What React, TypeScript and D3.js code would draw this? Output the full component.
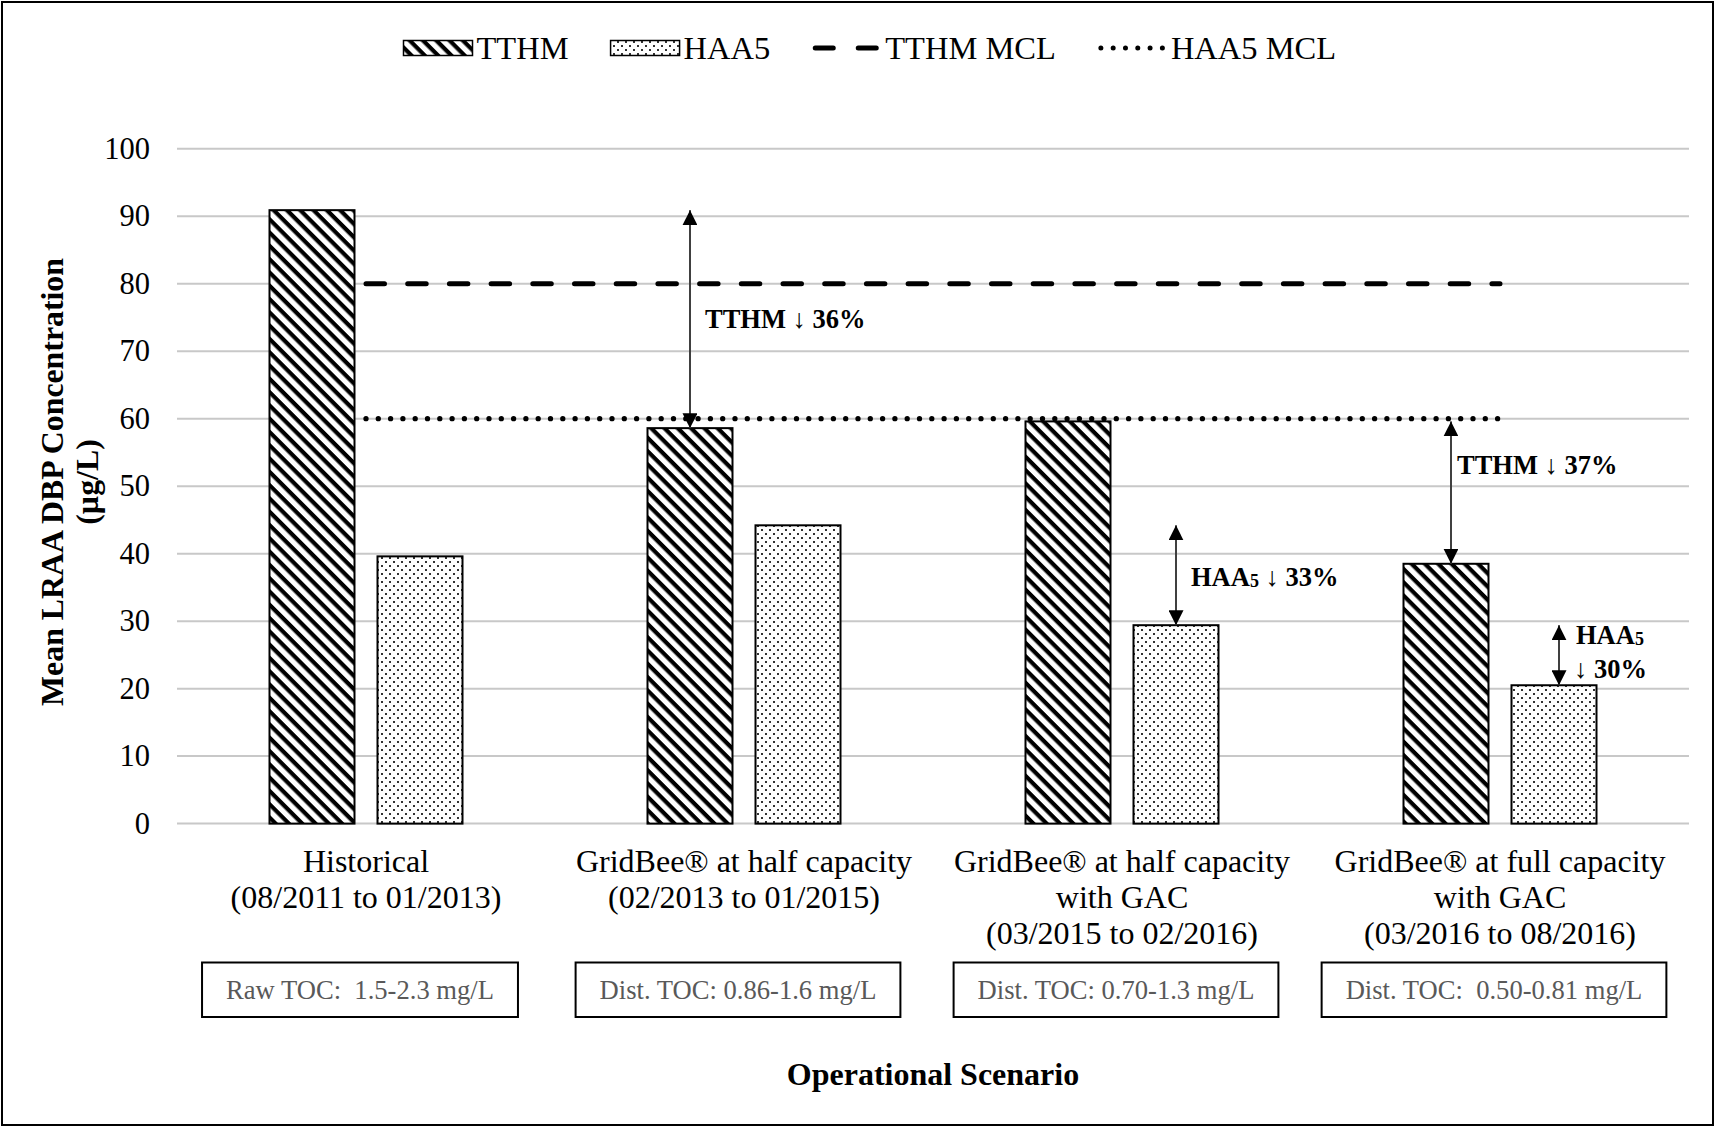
import { useEffect, useRef } from "react"
import * as d3 from "d3"

// scenario keys + multi-line axis labels
const categories = ["historical", "half", "halfGac", "fullGac"]
const categoryLines = [
  ["Historical", "(08/2011 to 01/2013)"],
  ["GridBee® at half capacity", "(02/2013 to 01/2015)"],
  ["GridBee® at half capacity", "with GAC", "(03/2015 to 02/2016)"],
  ["GridBee® at full capacity", "with GAC", "(03/2016 to 08/2016)"],
]

const tthm = [90.9, 58.6, 59.6, 38.5]
const haa5 = [39.6, 44.2, 29.4, 20.5]
const tthmMcl = [80, 80, 80, 80]
const haa5Mcl = [60, 60, 60, 60]

const tocLabels = ["Raw TOC:  1.5-2.3 mg/L", "Dist. TOC: 0.86-1.6 mg/L", "Dist. TOC: 0.70-1.3 mg/L", "Dist. TOC:  0.50-0.81 mg/L"]

const yTicks = [0, 10, 20, 30, 40, 50, 60, 70, 80, 90, 100]

// reduction arrows: drawn on a bar, from an earlier value down to the bar top
const reductions = [
  { cat: 1, series: "TTHM", from: tthm[0], to: tthm[1], lines: ["TTHM ↓ 36%"], labelAt: 74.8 },
  { cat: 2, series: "HAA5", from: haa5[1], to: haa5[2], lines: ["HAA5 ↓ 33%"], labelAt: 36.6 },
  { cat: 3, series: "TTHM", from: tthm[2], to: tthm[3], lines: ["TTHM ↓ 37%"], labelAt: 53.2 },
  { cat: 3, series: "HAA5", from: haa5[2], to: haa5[3], lines: ["HAA5", "↓ 30%"], labelAt: 25.4 },
]

const W = 1715
const H = 1127
const FONT = "'Liberation Serif', 'Times New Roman', serif"

export default function App() {
  const svgRef = useRef<SVGSVGElement>(null)

  useEffect(() => {
    if (!svgRef.current) return
    const svg = d3.select(svgRef.current)
    svg.selectAll("*").remove()

    const left = 177
    const right = 1689
    const top = 148.75
    const bottom = 823.6

    const x = d3.scaleBand<string>().domain(categories).range([left, right])
    const xs = d3.scaleBand<string>().domain(["TTHM", "HAA5"]).range([-96.5, 96.5]).paddingInner(0.213)
    const y = d3.scaleLinear().domain([0, 100]).range([bottom, top])
    const cx = (i: number) => (x(categories[i]) as number) + x.bandwidth() / 2

    const defs = svg.append("defs")

    // wide downward diagonal
    const hatch = defs
      .append("pattern")
      .attr("id", "hatch")
      .attr("patternUnits", "userSpaceOnUse")
      .attr("width", 9.4)
      .attr("height", 9.4)
      .attr("patternTransform", "rotate(45)")
    hatch.append("rect").attr("width", 9.4).attr("height", 9.4).attr("fill", "white")
    hatch.append("rect").attr("width", 9.4).attr("height", 4.2).attr("fill", "black")

    // dotted fill
    const dots = defs
      .append("pattern")
      .attr("id", "dots")
      .attr("patternUnits", "userSpaceOnUse")
      .attr("width", 8)
      .attr("height", 8)
    dots.append("rect").attr("width", 8).attr("height", 8).attr("fill", "white")
    dots.append("rect").attr("x", 1).attr("y", 1).attr("width", 2).attr("height", 2).attr("fill", "#333")
    dots.append("rect").attr("x", 5).attr("y", 5).attr("width", 2).attr("height", 2).attr("fill", "#333")

    defs
      .append("marker")
      .attr("id", "head")
      .attr("viewBox", "0 0 10 10")
      .attr("refX", 10)
      .attr("refY", 5)
      .attr("markerWidth", 15)
      .attr("markerHeight", 15)
      .attr("markerUnits", "userSpaceOnUse")
      .attr("orient", "auto-start-reverse")
      .append("path")
      .attr("d", "M0,0 L10,5 L0,10 Z")
      .attr("fill", "black")

    // outer frame
    svg.append("rect").attr("x", 2).attr("y", 2).attr("width", W - 4).attr("height", H - 4).attr("fill", "white").attr("stroke", "black").attr("stroke-width", 2)

    // grid
    svg
      .append("g")
      .selectAll("line")
      .data(yTicks)
      .enter()
      .append("line")
      .attr("x1", left)
      .attr("x2", right)
      .attr("y1", (d) => y(d))
      .attr("y2", (d) => y(d))
      .attr("stroke", "#c8c8c8")
      .attr("stroke-width", 2)

    svg
      .append("g")
      .selectAll("text")
      .data(yTicks)
      .enter()
      .append("text")
      .attr("x", 150)
      .attr("y", (d) => y(d))
      .attr("text-anchor", "end")
      .attr("dominant-baseline", "central")
      .style("font-family", FONT)
      .style("font-size", "30.5px")
      .text((d) => d)

    // bars
    const series = [
      { key: "TTHM", values: tthm, fill: "url(#hatch)" },
      { key: "HAA5", values: haa5, fill: "url(#dots)" },
    ]
    series.forEach((s) => {
      svg
        .append("g")
        .selectAll("rect")
        .data(s.values)
        .enter()
        .append("rect")
        .attr("x", (d, i) => cx(i) + (xs(s.key) as number))
        .attr("y", (d) => y(d))
        .attr("width", xs.bandwidth())
        .attr("height", (d) => bottom - y(d))
        .attr("fill", s.fill)
        .attr("stroke", "black")
        .attr("stroke-width", 2)
    })

    // MCL lines
    const mclLine = d3
      .line<number>()
      .x((d, i) => cx(i))
      .y((d) => y(d))
    svg.append("path").datum(tthmMcl).attr("d", mclLine).attr("fill", "none").attr("stroke", "black").attr("stroke-width", 5).attr("stroke-linecap", "round").attr("stroke-dasharray", "18.5 23.2")
    svg.append("path").datum(haa5Mcl).attr("d", mclLine).attr("fill", "none").attr("stroke", "black").attr("stroke-width", 5.3).attr("stroke-linecap", "round").attr("stroke-dasharray", "0 12.3")

    // reduction arrows
    const addLabel = (sel: d3.Selection<SVGTextElement, unknown, null, undefined>, str: string) => {
      const parts = str.split(/(HAA)(5)/).filter((p) => p !== "")
      let sub = false
      parts.forEach((p, k) => {
        if (p === "5" && parts[k - 1] === "HAA") {
          sel.append("tspan").attr("font-size", "18px").attr("dy", 4).text("5")
          sub = true
        } else {
          const t = sel.append("tspan").text(p)
          if (sub) {
            t.attr("dy", -4)
            sub = false
          }
        }
      })
    }

    reductions.forEach((r) => {
      const last = r.cat === 3
      const shift = last ? 5 : 0
      const ax = cx(r.cat) + (xs(r.series) as number) + xs.bandwidth() / 2 + shift
      svg
        .append("line")
        .attr("x1", ax)
        .attr("x2", ax)
        .attr("y1", y(r.from))
        .attr("y2", y(r.to))
        .attr("stroke", "#404040")
        .attr("stroke-width", 2)
        .attr("marker-start", "url(#head)")
        .attr("marker-end", "url(#head)")

      const dx = r.series === "TTHM" && last ? 6 : last ? 17 : 15
      r.lines.forEach((ln, li) => {
        const t = svg
          .append("text")
          .attr("x", ax + dx - (li > 0 ? 2 : 0))
          .attr("y", y(r.labelAt) + (li - (r.lines.length - 1) / 2) * 34)
          .attr("dominant-baseline", "central")
          .style("font-family", FONT)
          .style("font-size", "26.5px")
          .style("font-weight", "bold")
          .style("white-space", "pre")
        addLabel(t, ln)
      })
    })

    // category labels
    categoryLines.forEach((lines, i) => {
      svg
        .append("g")
        .selectAll("text")
        .data(lines)
        .enter()
        .append("text")
        .attr("x", cx(i))
        .attr("y", (d, li) => 861 + li * 36)
        .attr("text-anchor", "middle")
        .attr("dominant-baseline", "central")
        .style("font-family", FONT)
        .style("font-size", "32px")
        .text((d) => d)
    })

    // TOC boxes
    tocLabels.forEach((lab, i) => {
      const g = svg.append("g")
      const t = g
        .append("text")
        .attr("x", cx(i) - 6)
        .attr("y", 990)
        .attr("text-anchor", "middle")
        .attr("dominant-baseline", "central")
        .style("font-family", FONT)
        .style("font-size", "26.6px")
        .style("white-space", "pre")
        .attr("fill", "#595959")
        .text(lab)
      const tw = (t.node() as SVGTextElement).getComputedTextLength()
      g.insert("rect", "text")
        .attr("x", cx(i) - 6 - tw / 2 - 24)
        .attr("y", 962.5)
        .attr("width", tw + 48)
        .attr("height", 54.5)
        .attr("fill", "white")
        .attr("stroke", "black")
        .attr("stroke-width", 2)
    })

    // axis titles
    svg
      .append("text")
      .attr("x", 933)
      .attr("y", 1074)
      .attr("text-anchor", "middle")
      .attr("dominant-baseline", "central")
      .style("font-family", FONT)
      .style("font-size", "32px")
      .style("font-weight", "bold")
      .text("Operational Scenario")

    const yTitle = svg.append("g").attr("transform", "translate(0,482) rotate(-90)")
    ;["Mean LRAA DBP Concentration", "(µg/L)"].forEach((ln, li) => {
      yTitle
        .append("text")
        .attr("x", 0)
        .attr("y", 52 + li * 35.5)
        .attr("text-anchor", "middle")
        .attr("dominant-baseline", "central")
        .style("font-family", FONT)
        .style("font-size", "31.8px")
        .style("font-weight", "bold")
        .text(ln)
    })

    // legend
    const legendItems = [
      { label: "TTHM", kind: "rect", fill: "url(#hatch)" },
      { label: "HAA5", kind: "rect", fill: "url(#dots)" },
      { label: "TTHM MCL", kind: "dash", fill: "" },
      { label: "HAA5 MCL", kind: "dot", fill: "" },
    ]
    const ly = 48
    let lx = 403.5
    legendItems.forEach((it) => {
      const g = svg.append("g")
      if (it.kind === "rect") {
        g.append("rect").attr("x", lx).attr("y", ly - 7.5).attr("width", 69).attr("height", 15).attr("fill", it.fill).attr("stroke", "black").attr("stroke-width", 1.5)
      } else {
        g.append("line")
          .attr("x1", lx + 3)
          .attr("x2", lx + 66)
          .attr("y1", ly)
          .attr("y2", ly)
          .attr("stroke", "black")
          .attr("stroke-width", 5)
          .attr("stroke-linecap", "round")
          .attr("stroke-dasharray", it.kind === "dash" ? "18 25" : "0 12.3")
      }
      const t = g
        .append("text")
        .attr("x", lx + 73)
        .attr("y", ly)
        .attr("dominant-baseline", "central")
        .style("font-family", FONT)
        .style("font-size", "32.5px")
        .text(it.label)
      lx += 73 + (t.node() as SVGTextElement).getComputedTextLength() + 42
    })
  }, [])

  return (
    <div style={{ position: "absolute", left: 0, top: 0, width: W, height: H, background: "white" }}>
      <svg ref={svgRef} width={W} height={H} />
    </div>
  )
}
